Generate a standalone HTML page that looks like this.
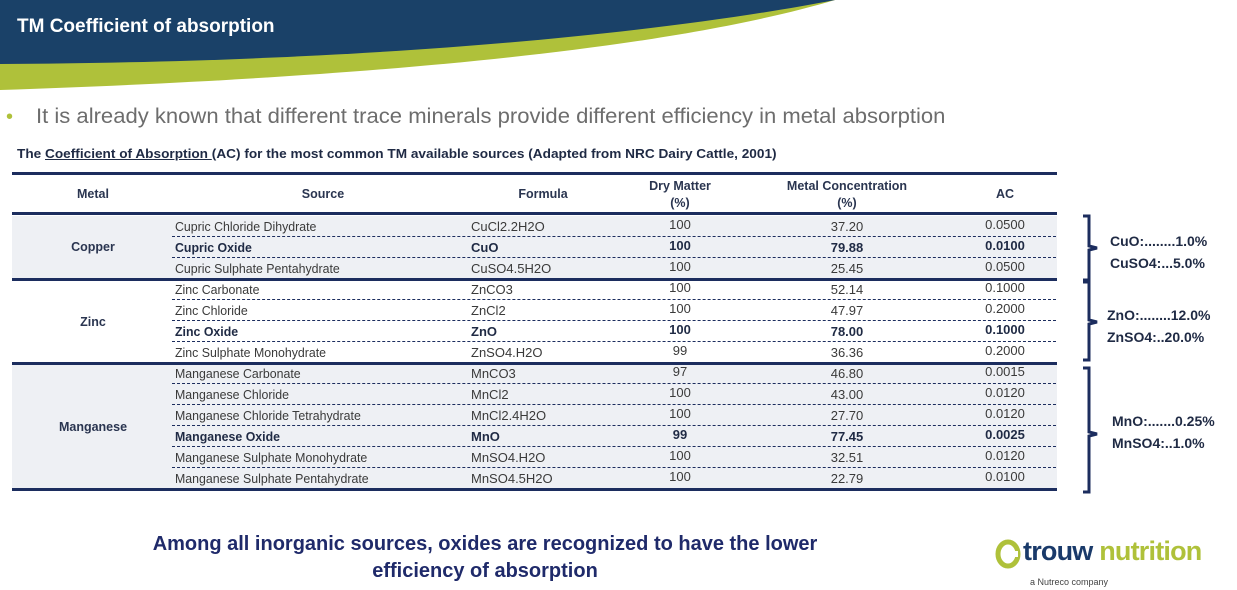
<!DOCTYPE html>
<html><head><meta charset="utf-8">
<style>
*{margin:0;padding:0;box-sizing:border-box}
body{width:1237px;height:590px;background:#fff;position:relative;overflow:hidden;font-family:"Liberation Sans",sans-serif;}
.a{position:absolute;white-space:nowrap;}
.sx{display:inline-block;transform-origin:left center;}
.c{color:#3a3a3a;font-size:13px;}
.b{font-weight:bold;color:#1f2a44}
.hd{font-weight:bold;color:#2a3550;font-size:12.5px;text-align:center}
.dash{position:absolute;left:172px;width:884px;height:0;border-top:1.3px dashed #1c2d5e}
.sol{position:absolute;left:12px;width:1045px;height:3px;background:#1c2d5e}
</style></head><body>
<svg class="a" style="left:0;top:0" width="1237" height="100">
<path d="M0,0 H835 C700,40 450,75 0,90 Z" fill="#afc13a"/>
<path d="M0,0 H835 C680,30 400,62 0,64 Z" fill="#1a4168"/>
</svg>
<div class="a" style="left:17px;top:16px;color:#fff;font-weight:bold;font-size:19px"><span class="sx" style="transform:scaleX(1.0)">TM Coefficient of absorption</span></div>
<div class="a" style="left:6px;top:106px;color:#afc13a;font-size:20px">•</div>
<div class="a" style="left:36px;top:105px;color:#6d6d6d;font-size:21px"><span class="sx" style="transform:scaleX(1.05)">It is already known that different trace minerals provide different efficiency in metal absorption</span></div>
<div class="a" style="left:17px;top:147px;color:#1f2a44;font-weight:bold;font-size:12.5px"><span class="sx" style="transform:scaleX(1.09)">The <u>Coefficient of Absorption </u>(AC) for the most common TM available sources (Adapted from NRC Dairy Cattle, 2001)</span></div>

<div class="a" style="left:12px;top:216px;width:1045px;height:63px;background:#eef0f4"></div>
<div class="a" style="left:12px;top:363px;width:1045px;height:126px;background:#eef0f4"></div>
<div class="sol" style="top:172px"></div>
<div class="sol" style="top:212px"></div>
<div class="sol" style="top:278px"></div>
<div class="sol" style="top:362px"></div>
<div class="sol" style="top:488px"></div>

<div class="a hd" style="left:43px;top:187px;width:100px">Metal</div>
<div class="a hd" style="left:273px;top:187px;width:100px">Source</div>
<div class="a hd" style="left:493px;top:187px;width:100px">Formula</div>
<div class="a hd" style="left:620px;top:178px;width:120px;line-height:17px">Dry Matter<br>(%)</div>
<div class="a hd" style="left:767px;top:178px;width:160px;line-height:17px">Metal Concentration<br>(%)</div>
<div class="a hd" style="left:955px;top:187px;width:100px">AC</div>

<div class="a hd" style="left:43px;top:240px;width:100px">Copper</div>
<div class="a hd" style="left:43px;top:315px;width:100px">Zinc</div>
<div class="a hd" style="left:43px;top:420px;width:100px">Manganese</div>

<div id="rows"></div>
<script>
var d=[
["Cupric Chloride Dihydrate","CuCl2.2H2O","100","37.20","0.0500",0],
["Cupric Oxide","CuO","100","79.88","0.0100",1],
["Cupric Sulphate Pentahydrate","CuSO4.5H2O","100","25.45","0.0500",0],
["Zinc Carbonate","ZnCO3","100","52.14","0.1000",0],
["Zinc Chloride","ZnCl2","100","47.97","0.2000",0],
["Zinc Oxide","ZnO","100","78.00","0.1000",1],
["Zinc Sulphate Monohydrate","ZnSO4.H2O","99","36.36","0.2000",0],
["Manganese Carbonate","MnCO3","97","46.80","0.0015",0],
["Manganese Chloride","MnCl2","100","43.00","0.0120",0],
["Manganese Chloride Tetrahydrate","MnCl2.4H2O","100","27.70","0.0120",0],
["Manganese Oxide","MnO","99","77.45","0.0025",1],
["Manganese Sulphate Monohydrate","MnSO4.H2O","100","32.51","0.0120",0],
["Manganese Sulphate Pentahydrate","MnSO4.5H2O","100","22.79","0.0100",0]];
var h="";
for(var i=0;i<d.length;i++){var y=216+i*21,r=d[i],cl=r[5]?"c b":"c";
h+='<div class="a '+cl+'" style="left:175px;top:'+(y+3)+'px"><span class="sx" style="transform:scaleX(0.95)">'+r[0]+'</span></div>';
h+='<div class="a '+cl+'" style="left:471px;top:'+(y+3)+'px">'+r[1]+'</div>';
h+='<div class="a '+cl+'" style="left:630px;width:100px;text-align:center;top:'+(y+1)+'px">'+r[2]+'</div>';
h+='<div class="a '+cl+'" style="left:797px;width:100px;text-align:center;top:'+(y+3)+'px">'+r[3]+'</div>';
h+='<div class="a '+cl+'" style="left:955px;width:100px;text-align:center;top:'+(y+1)+'px">'+r[4]+'</div>';
if(i!=2&&i!=6&&i!=12)h+='<div class="dash" style="top:'+(y+20)+'px"></div>';}
document.getElementById("rows").innerHTML=h;
</script>

<svg class="a" style="left:1075px;top:210px" width="40" height="290">
<g fill="none" stroke="#1c2d5e" stroke-width="3">
<path d="M8,6 H14 V36 L22,38 L14,40 V70 H8"/>
<path d="M8,72 H14 V110 L22,112 L14,114 V150 H8"/>
<path d="M8,158 H14 V222 L22,224 L14,226 V282 H8"/>
</g></svg>
<div class="a" style="left:1110px;top:230px;color:#1f2a44;font-weight:bold;font-size:14px;line-height:22px">CuO:........1.0%<br>CuSO4:...5.0%</div>
<div class="a" style="left:1107px;top:304px;color:#1f2a44;font-weight:bold;font-size:14px;line-height:22px">ZnO:........12.0%<br>ZnSO4:..20.0%</div>
<div class="a" style="left:1112px;top:410px;color:#1f2a44;font-weight:bold;font-size:14px;line-height:22px">MnO:.......0.25%<br>MnSO4:..1.0%</div>

<div class="a" style="left:85px;top:531px;width:800px;text-align:center;color:#1f2a6a;font-weight:bold;font-size:20px;line-height:27px">Among all inorganic sources, oxides are recognized to have the lower<br>efficiency of absorption</div>

<svg class="a" style="left:995px;top:539px" width="26" height="30"><ellipse cx="13" cy="15" rx="10" ry="12" fill="none" stroke="#afc13a" stroke-width="5"/><rect x="7" y="12" width="16" height="6" fill="#fff"/></svg>
<div class="a" style="left:1023px;top:536px;font-weight:bold;font-size:27px;letter-spacing:-0.8px"><span style="color:#1a3a6a">trouw</span> <span style="color:#afc13a">nutrition</span></div>
<div class="a" style="left:1030px;top:577px;font-size:9px;color:#444">a Nutreco company</div>
</body></html>
